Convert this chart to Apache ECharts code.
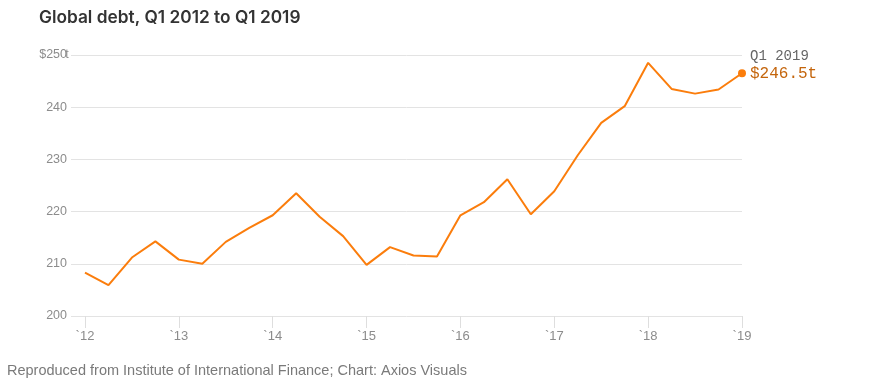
<!DOCTYPE html>
<html>
<head>
<meta charset="utf-8">
<script src="https://cdn.jsdelivr.net/npm/echarts@6/dist/echarts.min.js"></script>
<style>html,body{margin:0;padding:0;background:#fff;}#c{width:872px;height:387px;}</style>
</head>
<body>
<div id="c"></div>
<script>
// Data: global debt, trillions of US dollars, quarterly Q1 2012 .. Q1 2019
const quarters = [
  '2012Q1','2012Q2','2012Q3','2012Q4',
  '2013Q1','2013Q2','2013Q3','2013Q4',
  '2014Q1','2014Q2','2014Q3','2014Q4',
  '2015Q1','2015Q2','2015Q3','2015Q4',
  '2016Q1','2016Q2','2016Q3','2016Q4',
  '2017Q1','2017Q2','2017Q3','2017Q4',
  '2018Q1','2018Q2','2018Q3','2018Q4',
  '2019Q1'
];
const debt = [
  208.3, 205.9, 211.2, 214.3,
  210.8, 210.0, 214.2, 216.9,
  219.3, 223.5, 219.0, 215.3,
  209.8, 213.2, 211.6, 211.4,
  219.3, 221.8, 226.2, 219.5,
  223.9, 230.8, 237.0, 240.2,
  248.5, 243.5, 242.6, 243.4,
  246.5
];
const yTicks = [200, 210, 220, 230, 240, 250];
const xYears = [2012, 2013, 2014, 2015, 2016, 2017, 2018, 2019];
const titleText = 'Global debt, Q1 2012 to Q1 2019';
const sourceText = 'Reproduced from Institute of International Finance; Chart: Axios Visuals';
const lastLabel = 'Q1 2019';

const toX = q => Number(q.slice(0, 4)) + (Number(q.slice(5)) - 1) / 4;
const points = quarters.map((q, i) => [toX(q), debt[i]]);
const lastIdx = points.length - 1;

const chart = echarts.init(document.getElementById('c'), null, {renderer: 'canvas'});
const GRAY = '#8c8c8c';
const ORANGE = '#fb7d0c';

chart.setOption({
  animation: false,
  backgroundColor: '#fff',
  title: {
    text: titleText,
    left: 39, top: 9, padding: 0,
    textStyle: {fontFamily: 'Inter', fontSize: 17.3, fontWeight: 600, color: '#333'}
  },
  graphic: [{
    type: 'text', left: 7, top: 363,
    style: {text: sourceText, fontFamily: 'Liberation Sans', fontSize: 14.5, fill: '#7a7a7a'}
  }],
  grid: [
    {left: 71, right: 130, top: 55, bottom: 71},
    {left: 85, right: 130, top: 55, bottom: 71}
  ],
  xAxis: [
    {gridIndex: 0, type: 'value', min: 0, max: 1, show: false},
    {
      gridIndex: 1, type: 'value', min: xYears[0], max: xYears[xYears.length - 1], interval: 1,
      axisLine: {show: false},
      axisTick: {show: true, length: 12, lineStyle: {color: '#dedede', width: 1}},
      splitLine: {show: false},
      axisLabel: {
        margin: 14, color: GRAY, fontFamily: 'Liberation Sans', fontSize: 13,
        formatter: v => '`' + String(v).slice(2)
      }
    }
  ],
  yAxis: [
    {
      gridIndex: 0, type: 'value', min: yTicks[0], max: yTicks[yTicks.length - 1], interval: 10,
      axisLine: {show: false}, axisTick: {show: false},
      splitLine: {show: true, lineStyle: {color: '#e3e3e3', width: 1}},
      axisLabel: {
        margin: 4, color: GRAY, fontFamily: 'Liberation Sans', fontSize: 12.5,
        formatter: v => v === yTicks[yTicks.length - 1] ? '{n|$' + v + '}{t|t}' : String(v),
        rich: {
          n: {color: GRAY, fontFamily: 'Liberation Sans', fontSize: 12.5},
          t: {color: GRAY, fontFamily: 'Liberation Sans', fontSize: 12.5, width: 0, align: 'left'}
        }
      }
    },
    {gridIndex: 1, type: 'value', min: yTicks[0], max: yTicks[yTicks.length - 1], show: false}
  ],
  series: [{
    type: 'line',
    xAxisIndex: 1, yAxisIndex: 1,
    data: points.map((p, i) => i === lastIdx ? {
      value: p,
      symbol: 'circle', symbolSize: 8,
      itemStyle: {color: ORANGE},
      label: {
        show: true, position: 'right', distance: 4, offset: [0, -8],
        formatter: () => '{a|' + lastLabel + '}\n{b|$' + debt[lastIdx] + 't}',
        rich: {
          a: {fontFamily: 'Liberation Mono', fontSize: 14, color: '#666', lineHeight: 17},
          b: {fontFamily: 'Liberation Mono', fontSize: 16, color: '#c4650c', lineHeight: 18}
        }
      }
    } : {value: p, symbol: 'none'}),
    showSymbol: true,
    lineStyle: {color: ORANGE, width: 2},
    itemStyle: {color: ORANGE},
    z: 3
  }]
});
</script>
</body>
</html>
